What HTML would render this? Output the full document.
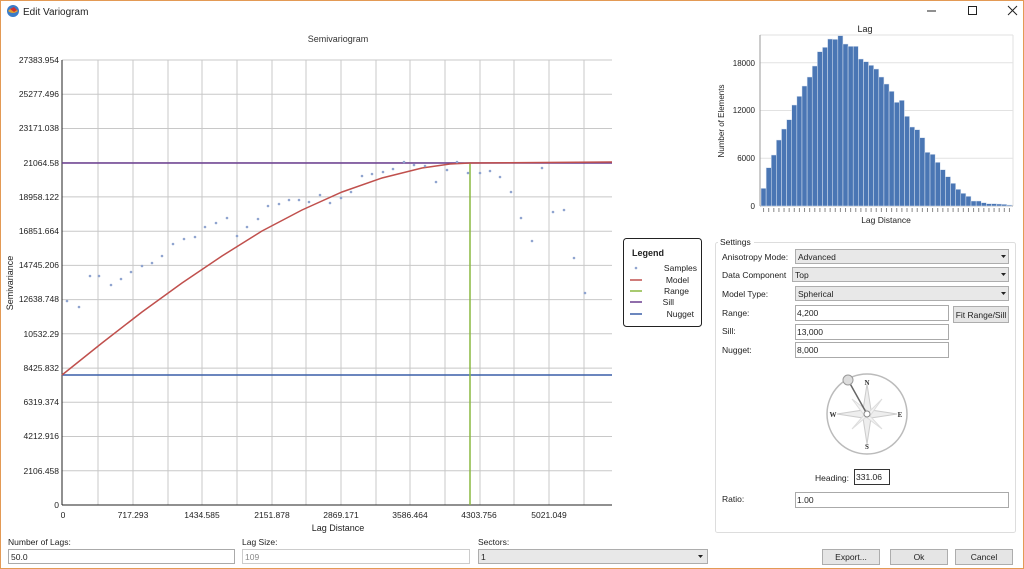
<!DOCTYPE html>
<html><head><meta charset="utf-8"><style>
html,body{margin:0;padding:0;background:#fff;}
svg{display:block;font-family:"Liberation Sans",sans-serif;}
</style></head><body>
<svg width="1024" height="569" viewBox="0 0 1024 569" xmlns="http://www.w3.org/2000/svg">
<rect x="0.5" y="0.5" width="1023" height="568" fill="#fff" stroke="#e39a55"/>
<circle cx="13" cy="11" r="6" fill="#3a7bc8"/><path d="M8,11 q5,-6 10,0 q-5,4 -10,0z" fill="#e0a030"/><path d="M10,9 l4,-2 l3,3 l-3,2z" fill="#d03030"/>
<text x="23" y="15" font-size="10" fill="#222">Edit Variogram</text>
<line x1="927" y1="11" x2="936" y2="11" stroke="#222"/>
<rect x="968.5" y="6.5" width="8" height="8" fill="none" stroke="#222"/>
<path d="M1008,6 l9,9 M1017,6 l-9,9" stroke="#222"/>

<text x="338" y="42" font-size="9" text-anchor="middle" fill="#333">Semivariogram</text>
<g id="grid" stroke="#ccc" stroke-width="1">
</g>
<g stroke="#c8c8c8">
<line x1="98" y1="60" x2="98" y2="505"/><line x1="133" y1="60" x2="133" y2="505"/><line x1="168" y1="60" x2="168" y2="505"/><line x1="202" y1="60" x2="202" y2="505"/><line x1="237" y1="60" x2="237" y2="505"/><line x1="272" y1="60" x2="272" y2="505"/><line x1="306" y1="60" x2="306" y2="505"/><line x1="341" y1="60" x2="341" y2="505"/><line x1="376" y1="60" x2="376" y2="505"/><line x1="410" y1="60" x2="410" y2="505"/><line x1="445" y1="60" x2="445" y2="505"/><line x1="480" y1="60" x2="480" y2="505"/><line x1="514" y1="60" x2="514" y2="505"/><line x1="549" y1="60" x2="549" y2="505"/><line x1="584" y1="60" x2="584" y2="505"/>
<line x1="62" y1="60" x2="612" y2="60"/><line x1="62" y1="94.2" x2="612" y2="94.2"/><line x1="62" y1="128.5" x2="612" y2="128.5"/><line x1="62" y1="162.7" x2="612" y2="162.7"/><line x1="62" y1="196.9" x2="612" y2="196.9"/><line x1="62" y1="231.2" x2="612" y2="231.2"/><line x1="62" y1="265.4" x2="612" y2="265.4"/><line x1="62" y1="299.6" x2="612" y2="299.6"/><line x1="62" y1="333.8" x2="612" y2="333.8"/><line x1="62" y1="368.1" x2="612" y2="368.1"/><line x1="62" y1="402.3" x2="612" y2="402.3"/><line x1="62" y1="436.5" x2="612" y2="436.5"/><line x1="62" y1="470.8" x2="612" y2="470.8"/>
</g>
<line x1="62" y1="60" x2="62" y2="505" stroke="#222"/>
<line x1="62" y1="505" x2="612" y2="505" stroke="#222"/>
<g font-size="8.5" fill="#222" text-anchor="end">
<text x="59" y="63">27383.954</text><text x="59" y="97">25277.496</text><text x="59" y="131">23171.038</text><text x="59" y="166">21064.58</text><text x="59" y="200">18958.122</text><text x="59" y="234">16851.664</text><text x="59" y="268">14745.206</text><text x="59" y="302">12638.748</text><text x="59" y="337">10532.29</text><text x="59" y="371">8425.832</text><text x="59" y="405">6319.374</text><text x="59" y="439">4212.916</text><text x="59" y="474">2106.458</text><text x="59" y="508">0</text>
</g>
<g font-size="8.5" fill="#222" text-anchor="middle">
<text x="63" y="518">0</text><text x="133" y="518">717.293</text><text x="202" y="518">1434.585</text><text x="272" y="518">2151.878</text><text x="341" y="518">2869.171</text><text x="410" y="518">3586.464</text><text x="479" y="518">4303.756</text><text x="549" y="518">5021.049</text>
</g>
<text x="338" y="531" font-size="9" text-anchor="middle" fill="#222">Lag Distance</text>
<text transform="translate(13,283) rotate(-90)" font-size="9" text-anchor="middle" fill="#222">Semivariance</text>

<line x1="62" y1="375" x2="612" y2="375" stroke="#3a5fa8" stroke-width="1.5"/>
<line x1="62" y1="163" x2="612" y2="163" stroke="#6a3d8f" stroke-width="1.5"/>
<line x1="470" y1="163" x2="470" y2="505" stroke="#8ab840" stroke-width="1.5"/>
<polyline fill="none" stroke="#c0504d" stroke-width="1.5" points="62,375 102,343 142,312 182,283 222,256 262,231 302,210 342,192 382,178 422,168 450,164 470,163 612,162"/>
<g fill="#8fa4cf">
<circle cx="67" cy="301" r="1.3"/><circle cx="79" cy="307" r="1.3"/><circle cx="90" cy="276" r="1.3"/><circle cx="99" cy="276" r="1.3"/><circle cx="111" cy="285" r="1.3"/><circle cx="121" cy="279" r="1.3"/><circle cx="131" cy="272" r="1.3"/><circle cx="142" cy="266" r="1.3"/><circle cx="152" cy="263" r="1.3"/><circle cx="162" cy="256" r="1.3"/><circle cx="173" cy="244" r="1.3"/><circle cx="184" cy="239" r="1.3"/><circle cx="195" cy="237" r="1.3"/><circle cx="205" cy="227" r="1.3"/><circle cx="216" cy="223" r="1.3"/><circle cx="227" cy="218" r="1.3"/><circle cx="237" cy="236" r="1.3"/><circle cx="247" cy="227" r="1.3"/><circle cx="258" cy="219" r="1.3"/><circle cx="268" cy="206" r="1.3"/><circle cx="279" cy="204" r="1.3"/><circle cx="289" cy="200" r="1.3"/><circle cx="299" cy="200" r="1.3"/><circle cx="309" cy="202" r="1.3"/><circle cx="320" cy="195" r="1.3"/><circle cx="330" cy="203" r="1.3"/><circle cx="341" cy="198" r="1.3"/><circle cx="351" cy="192" r="1.3"/><circle cx="362" cy="176" r="1.3"/><circle cx="372" cy="174" r="1.3"/><circle cx="383" cy="172" r="1.3"/><circle cx="393" cy="169" r="1.3"/><circle cx="404" cy="162" r="1.3"/><circle cx="414" cy="165" r="1.3"/><circle cx="425" cy="166" r="1.3"/><circle cx="436" cy="182" r="1.3"/><circle cx="447" cy="170" r="1.3"/><circle cx="457" cy="162" r="1.3"/><circle cx="468" cy="173" r="1.3"/><circle cx="480" cy="173" r="1.3"/><circle cx="490" cy="171" r="1.3"/><circle cx="500" cy="177" r="1.3"/><circle cx="511" cy="192" r="1.3"/><circle cx="521" cy="218" r="1.3"/><circle cx="532" cy="241" r="1.3"/><circle cx="542" cy="168" r="1.3"/><circle cx="553" cy="212" r="1.3"/><circle cx="564" cy="210" r="1.3"/><circle cx="574" cy="258" r="1.3"/><circle cx="585" cy="293" r="1.3"/>
</g>

<rect x="623.5" y="238.5" width="78" height="88" rx="3" fill="#fff" stroke="#222"/>
<text x="632" y="256" font-size="9" font-weight="bold" fill="#222">Legend</text>
<circle cx="636" cy="268" r="1.3" fill="#8fa4cf"/><text x="697" y="271" font-size="8.5" text-anchor="end" fill="#222">Samples</text>
<line x1="630" y1="280" x2="642" y2="280" stroke="#c0504d" stroke-width="1.5"/><text x="689" y="283" font-size="8.5" text-anchor="end" fill="#222">Model</text>
<line x1="630" y1="291" x2="642" y2="291" stroke="#8ab840" stroke-width="1.5"/><text x="689" y="294" font-size="8.5" text-anchor="end" fill="#222">Range</text>
<line x1="630" y1="302" x2="642" y2="302" stroke="#6a3d8f" stroke-width="1.5"/><text x="674" y="305" font-size="8.5" text-anchor="end" fill="#222">Sill</text>
<line x1="630" y1="314" x2="642" y2="314" stroke="#3a5fa8" stroke-width="1.5"/><text x="694" y="317" font-size="8.5" text-anchor="end" fill="#222">Nugget</text>

<!-- histogram -->
<text x="865" y="32" font-size="9" text-anchor="middle" fill="#222">Lag</text>
<g stroke="#e2e2e2"><line x1="760" y1="62.7" x2="1013" y2="62.7"/><line x1="760" y1="110.5" x2="1013" y2="110.5"/><line x1="760" y1="158.3" x2="1013" y2="158.3"/><line x1="760" y1="35" x2="1013" y2="35"/><line x1="1013" y1="35" x2="1013" y2="206"/></g>
<line x1="760" y1="35" x2="760" y2="206" stroke="#999"/>
<line x1="760" y1="206" x2="1013" y2="206" stroke="#999"/>
<g font-size="8" fill="#222" text-anchor="end"><text x="755" y="66">18000</text><text x="755" y="113">12000</text><text x="755" y="161">6000</text><text x="755" y="209">0</text></g>
<text transform="translate(724,121) rotate(-90)" font-size="8" text-anchor="middle" fill="#222">Number of Elements</text>
<text x="886" y="223" font-size="8.5" text-anchor="middle" fill="#222">Lag Distance</text>
<g id="bars" fill="#4a76b4" stroke="#dfe8f4" stroke-width="0.5"></g>
<g id="bticks" stroke="#888"></g>

<!-- settings -->
<rect x="715.5" y="242.5" width="300" height="290" rx="2" fill="none" stroke="#ddd"/>
<rect x="718" y="238" width="36" height="8" fill="#fff"/>
<text x="720" y="245" font-size="8.5" fill="#222">Settings</text>
<g font-size="8.5" fill="#222">
<text x="722" y="260">Anisotropy Mode:</text>
<text x="722" y="278">Data Component</text>
<text x="722" y="297">Model Type:</text>
<text x="722" y="316">Range:</text>
<text x="722" y="334">Sill:</text>
<text x="722" y="353">Nugget:</text>
<text x="815" y="481">Heading:</text>
<text x="722" y="502">Ratio:</text>
</g>
<g fill="#e8e8e8" stroke="#adadad">
<rect x="795.5" y="249.5" width="213" height="14"/>
<rect x="792.5" y="267.5" width="216" height="14"/>
<rect x="795.5" y="286.5" width="213" height="14"/>
<rect x="953.5" y="306.5" width="55" height="16" fill="#e5e5e5"/>
</g>
<g fill="#fff" stroke="#aaa">
<rect x="795.5" y="305.5" width="153" height="15"/>
<rect x="795.5" y="324.5" width="153" height="15"/>
<rect x="795.5" y="342.5" width="153" height="15"/>
<rect x="795.5" y="492.5" width="213" height="15"/>
</g>
<rect x="854.5" y="469.5" width="35" height="15" fill="#fff" stroke="#333"/>
<g font-size="8.5" fill="#222">
<text x="798" y="260">Advanced</text><text x="795" y="278">Top</text><text x="798" y="297">Spherical</text>
<text x="797" y="316">4,200</text><text x="797" y="335">13,000</text><text x="797" y="353">8,000</text>
<text x="856" y="480">331.06</text><text x="797" y="503">1.00</text>
<text x="981" y="318" text-anchor="middle">Fit Range/Sill</text>
</g>
<g fill="#222"><path d="M1001,255 h5 l-2.5,3z"/><path d="M1001,273 h5 l-2.5,3z"/><path d="M1001,292 h5 l-2.5,3z"/></g>

<!-- compass -->
<circle cx="867" cy="414" r="40" fill="#fff" stroke="#bbb" stroke-width="1.5"/>
<path d="M867,384 L871,410 L897,414 L871,418 L867,444 L863,418 L837,414 L863,410Z" fill="#eee" stroke="#ccc"/>
<path d="M852,399 L869,412 L882,399 L870,416 L882,429 L866,417 L852,429 L864,415Z" fill="#f3f3f3" stroke="#ddd"/>
<line x1="848" y1="380" x2="867" y2="414" stroke="#666" stroke-width="1.5"/>
<circle cx="867" cy="414" r="3" fill="#fff" stroke="#888"/>
<circle cx="848" cy="380" r="5" fill="#ddd" stroke="#999"/>
<g font-size="7" font-weight="bold" font-family="Liberation Serif,serif" fill="#333" text-anchor="middle">
<text x="867" y="385">N</text><text x="867" y="449">S</text><text x="833" y="417">W</text><text x="900" y="417">E</text></g>

<!-- bottom -->
<g font-size="8.5" fill="#222">
<text x="8" y="545">Number of Lags:</text><text x="242" y="545">Lag Size:</text><text x="478" y="545">Sectors:</text>
</g>
<rect x="8.5" y="549.5" width="226" height="14" fill="#fff" stroke="#aaa"/>
<rect x="242.5" y="549.5" width="227" height="14" fill="#fff" stroke="#ccc"/>
<rect x="478.5" y="549.5" width="229" height="14" fill="#e8e8e8" stroke="#adadad"/>
<g font-size="8.5"><text x="11" y="560" fill="#222">50.0</text><text x="245" y="560" fill="#888">109</text><text x="481" y="560" fill="#222">1</text></g>
<path d="M698,555 h5 l-2.5,3z" fill="#222"/>
<g fill="#e5e5e5" stroke="#adadad">
<rect x="822.5" y="549.5" width="57" height="15"/><rect x="890.5" y="549.5" width="57" height="15"/><rect x="955.5" y="549.5" width="57" height="15"/></g>
<g font-size="8.5" fill="#222" text-anchor="middle"><text x="851" y="560">Export...</text><text x="919" y="560">Ok</text><text x="984" y="560">Cancel</text></g>
</svg>
<script>
var tops=[505,443,405,360,327,299,255,229,198,171,138,95,82,57,58,47,72,79,79,117,125,136,147,171,192,214,247,241,289,321,329,353,397,403,427,449,470,490,508,520,529,543,543,548,551,551,552,553,555];
var g=document.getElementById('bars'),t=document.getElementById('bticks'),ns='http://www.w3.org/2000/svg';
var x0=761,w=(1012-761)/tops.length;
tops.forEach(function(v,i){var y=v/3+20;var r=document.createElementNS(ns,'rect');
r.setAttribute('x',x0+i*w);r.setAttribute('y',y);r.setAttribute('width',w);r.setAttribute('height',206-y);g.appendChild(r);
var l=document.createElementNS(ns,'line');var cx=x0+i*w+w/2;l.setAttribute('x1',cx);l.setAttribute('x2',cx);l.setAttribute('y1',208);l.setAttribute('y2',212);t.appendChild(l);});
</script>
</body></html>
